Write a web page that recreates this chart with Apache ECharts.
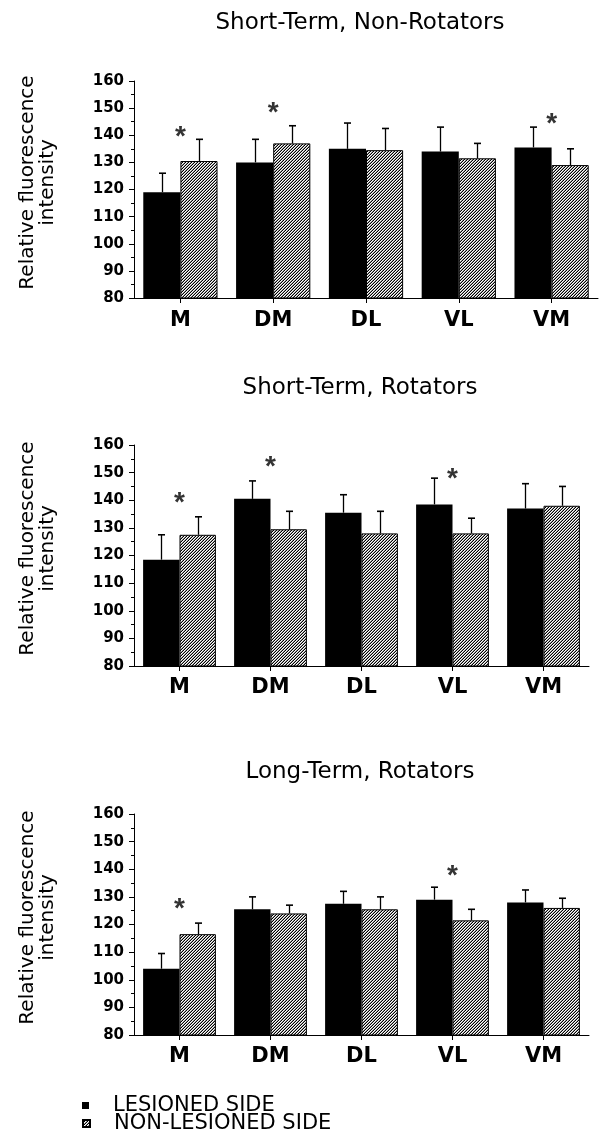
<!DOCTYPE html>
<html>
<head>
<meta charset="utf-8">
<script src="https://cdn.jsdelivr.net/npm/echarts/dist/echarts.min.js"></script>
<style>
  html, body { margin: 0; padding: 0; background: #fff; }
  #chart { width: 603px; height: 1132px; }
</style>
</head>
<body>
<div id="chart"></div>
<script>
var categories = ["M", "DM", "DL", "VL", "VM"];
var yTicks = { min: 80, max: 160, step: 10 };
var legendNames = ["LESIONED SIDE", "NON-LESIONED SIDE"];

// Short-Term, Non-Rotators
var stnrLesioned = [119, 130, 135, 134, 135.5];
var stnrLesionedErr = [7, 8.5, 9.5, 9, 7.5];
var stnrNonLesioned = [130.5, 137, 134.5, 131.5, 129];
var stnrNonLesionedErr = [8, 6.5, 8, 5.5, 6];
var stnrStars = [["M", 142], ["DM", 150.5], ["VM", 146.5]];

// Short-Term, Rotators
var strLesioned = [118.5, 140.5, 135.5, 138.5, 137];
var strLesionedErr = [9, 6.5, 6.5, 9.5, 9];
var strNonLesioned = [127.5, 129.5, 128, 128, 138];
var strNonLesionedErr = [6.5, 6.5, 8, 5.5, 7];
var strStars = [["M", 141.5], ["DM", 154.5], ["VL", 150]];

// Long-Term, Rotators
var ltrLesioned = [104, 125.5, 127.5, 129, 128];
var ltrLesionedErr = [5.5, 4.5, 4.5, 4.5, 4.5];
var ltrNonLesioned = [116.5, 124, 125.5, 121.5, 126];
var ltrNonLesionedErr = [4, 3, 4.5, 4, 3.5];
var ltrStars = [["M", 128], ["VL", 140]];

var panels = [
	{ title: "Short-Term, Non-Rotators", les: stnrLesioned, lesErr: stnrLesionedErr, non: stnrNonLesioned, nonErr: stnrNonLesionedErr, stars: stnrStars },
	{ title: "Short-Term, Rotators", les: strLesioned, lesErr: strLesionedErr, non: strNonLesioned, nonErr: strNonLesionedErr, stars: strStars },
	{ title: "Long-Term, Rotators", les: ltrLesioned, lesErr: ltrLesionedErr, non: ltrNonLesioned, nonErr: ltrNonLesionedErr, stars: ltrStars }
];

var grids = [
	{ left: 134, top: 81, width: 464, height: 217 },
	{ left: 134, top: 445, width: 455, height: 221 },
	{ left: 134, top: 814, width: 455, height: 221 }
];
var titleTops = [10, 375, 759];
var FONT = "DejaVu Sans";
var BAR_FRAC = 0.4;

/******hatch fill*********/
function makeHatch() {
	var c = document.createElement("canvas");
	c.width = 3;
	c.height = 3;
	var ctx = c.getContext("2d");
	ctx.fillStyle = "#fff";
	ctx.fillRect(0, 0, 3, 3);
	for (var y = 0; y < 3; y++) {
		for (var x = 0; x < 3; x++) {
			var d = (x + y) % 3;
			if (d === 2) { ctx.fillStyle = "#000"; ctx.fillRect(x, y, 1, 1); }
			if (d === 1) { ctx.fillStyle = "#9a9a9a"; ctx.fillRect(x, y, 1, 1); }
		}
	}
	return c;
}
var hatch = { image: makeHatch(), repeat: "repeat" };

function renderErr(params, api) {
	var cat = api.value(0), val = api.value(1), err = api.value(2), side = api.value(3);
	var bw = api.size([1, 0])[0] * BAR_FRAC;
	var base = api.coord([cat, val]);
	var x = Math.round(base[0] + (side === 0 ? -bw / 2 : bw / 2)) + 0.5;
	var top = api.coord([cat, val + err])[1];
	return {
		type: "group",
		children: [
			{ type: "line", shape: { x1: x, y1: base[1], x2: x, y2: top }, style: { stroke: "#000", lineWidth: 1.3 } },
			{ type: "line", shape: { x1: x - 3.5, y1: top, x2: x + 3.5, y2: top }, style: { stroke: "#000", lineWidth: 1.6 } }
		]
	};
}

var titles = [], xAxes = [], yAxes = [], series = [];
panels.forEach(function (p, i) {
	titles.push({
		text: p.title,
		left: 360,
		top: titleTops[i],
		textAlign: "center",
		padding: 0,
		textStyle: { fontFamily: FONT, fontSize: 23, fontWeight: "normal", color: "#000", lineHeight: 26 }
	});
	xAxes.push({
		gridIndex: i,
		type: "category",
		data: categories,
		axisLine: { lineStyle: { color: "#000", width: 1 } },
		axisTick: { show: true, alignWithLabel: true, length: 5, lineStyle: { color: "#000" } },
		axisLabel: { margin: i === 0 ? 12 : 11, fontFamily: FONT, fontSize: 21, fontWeight: "bold", color: "#000" },
		splitLine: { show: false }
	});
	yAxes.push({
		gridIndex: i,
		type: "value",
		min: yTicks.min,
		max: yTicks.max,
		interval: yTicks.step,
		name: "Relative fluorescence\nintensity",
		nameLocation: "middle",
		nameGap: 76,
		nameTextStyle: { fontFamily: FONT, fontSize: 20, color: "#000", lineHeight: 20, padding: [0, 0, 0, 14] },
		axisLine: { show: true, lineStyle: { color: "#000", width: 1 } },
		axisTick: { show: true, length: 5, lineStyle: { color: "#000" } },
		minorTick: { show: true, splitNumber: 2, length: 3, lineStyle: { color: "#000" } },
		axisLabel: { margin: 10, fontFamily: FONT, fontSize: 15, fontWeight: "bold", color: "#000" },
		splitLine: { show: false }
	});
	series.push({
		name: legendNames[0],
		type: "bar",
		xAxisIndex: i,
		yAxisIndex: i,
		data: p.les,
		barWidth: BAR_FRAC * 100 + "%",
		barGap: "0%",
		itemStyle: { color: "#000" }
	});
	series.push({
		name: legendNames[1],
		type: "bar",
		xAxisIndex: i,
		yAxisIndex: i,
		data: p.non,
		barWidth: BAR_FRAC * 100 + "%",
		barGap: "0%",
		itemStyle: { color: hatch, borderColor: "#000", borderWidth: 1 }
	});
	var errData = [];
	categories.forEach(function (c, k) {
		errData.push([k, p.les[k], p.lesErr[k], 0]);
		errData.push([k, p.non[k], p.nonErr[k], 1]);
	});
	series.push({
		type: "custom",
		xAxisIndex: i,
		yAxisIndex: i,
		renderItem: renderErr,
		encode: { x: 0, y: 1 },
		data: errData,
		z: 5,
		silent: true
	});
	series.push({
		type: "scatter",
		xAxisIndex: i,
		yAxisIndex: i,
		data: p.stars,
		symbolSize: 1,
		itemStyle: { color: "rgba(0,0,0,0)" },
		label: {
			show: true,
			position: "inside",
			formatter: "*",
			offset: [0, 7],
			fontFamily: "Liberation Sans",
			fontSize: 28,
			fontWeight: "bold",
			color: "#000"
		},
		z: 6,
		silent: true
	});
});

function legendRow(name, top) {
	return {
		data: [name],
		orient: "vertical",
		left: 82,
		top: top,
		padding: 0,
		itemWidth: 7,
		itemHeight: 7,
		icon: "rect",
		selectedMode: false,
		textStyle: { fontFamily: FONT, fontSize: 21, color: "#000", lineHeight: 18, padding: [0, 0, 0, 19] }
	};
}

var option = {
	backgroundColor: "#fff",
	animation: false,
	title: titles,
	legend: [legendRow(legendNames[0], 1095), legendRow(legendNames[1], 1113)],
	grid: grids,
	xAxis: xAxes,
	yAxis: yAxes,
	series: series
};

var myChart = echarts.init(document.getElementById("chart"));
myChart.setOption(option);
</script>
</body>
</html>
